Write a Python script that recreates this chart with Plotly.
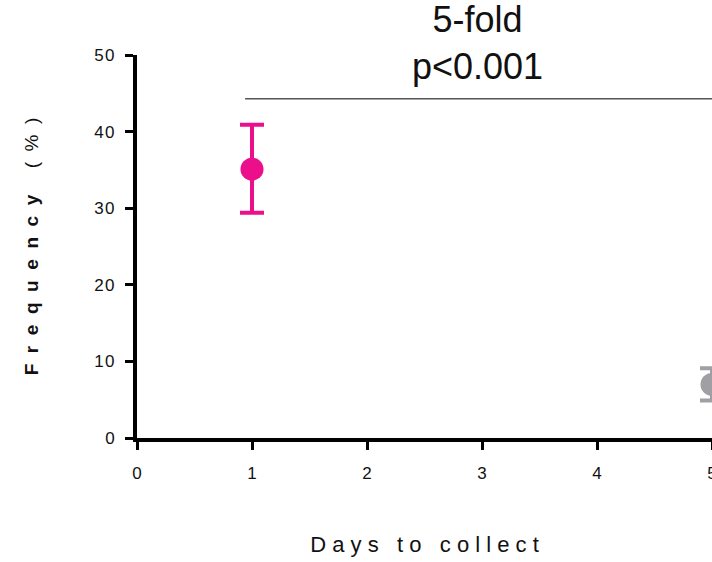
import plotly.graph_objects as go

# Data
days = [1, 5]
freq = [35.1, 7.0]
err_plus = [5.8, 2.1]
err_minus = [5.7, 2.1]
colors = ["#EC0F8C", "#A0A0A4"]
x_ticks = [0, 1, 2, 3, 4, 5]
y_ticks = [0, 10, 20, 30, 40, 50]

HS = "\u200a"  # hair space for letter spacing
NB = "\u00a0"

def spaced(s, sep):
    return sep.join(list(s))

fig = go.Figure()
for i in range(len(days)):
    fig.add_trace(go.Scatter(
        x=[days[i]], y=[freq[i]], mode="markers",
        marker=dict(size=23, color=colors[i]),
        error_y=dict(type="data", symmetric=False, array=[err_plus[i]], arrayminus=[err_minus[i]],
                     color=colors[i], thickness=4, width=12),
        cliponaxis=True, showlegend=False,
    ))

fig.add_shape(type="line", xref="x", yref="y", x0=0.94, x1=5.06, y0=44.3, y1=44.3,
              line=dict(color="#555555", width=1.5))

fig.add_annotation(x=2.96, y=1, xref="x", yref="paper", yanchor="bottom",
                   text="5-fold<br>p<0.001", showarrow=False,
                   font=dict(family="Liberation Sans, Arial", size=36, color="#111111"), yshift=-34)

ytitle = "<b>" + spaced("Frequency", NB * 2) + "</b>" + NB * 5 + spaced("(%)", NB * 2)
xtitle = (NB * 3).join(spaced(w, NB) for w in "Days to collect".split(" "))

fig.update_layout(
    width=712, height=562,
    margin=dict(l=137, r=0, t=55, b=124, autoexpand=False),
    plot_bgcolor="white", paper_bgcolor="white",
    font=dict(family="Liberation Sans, Arial", color="#111111"),
    xaxis=dict(range=[0, 5], tickvals=x_ticks, ticktext=[str(v) for v in x_ticks],
               showline=True, linewidth=4, linecolor="black", ticks="outside",
               ticklen=8, tickwidth=3, tickcolor="black", showgrid=False, zeroline=False,
               tickfont=dict(size=17), ticklabelstandoff=9, ticklabeloverflow="allow",
               automargin=False,
               title=dict(text=xtitle, font=dict(size=22), standoff=55)),
    yaxis=dict(range=[0, 50], tickvals=y_ticks, ticktext=[spaced(str(v), HS) for v in y_ticks],
               showline=True, linewidth=4, linecolor="black", ticks="outside",
               ticklen=8, tickwidth=3, tickcolor="black", showgrid=False, zeroline=False,
               tickfont=dict(size=17), ticklabelstandoff=7, automargin=False,
               title=dict(text=ytitle, font=dict(size=19), standoff=52)),
)

fig.write_html("out.html")
